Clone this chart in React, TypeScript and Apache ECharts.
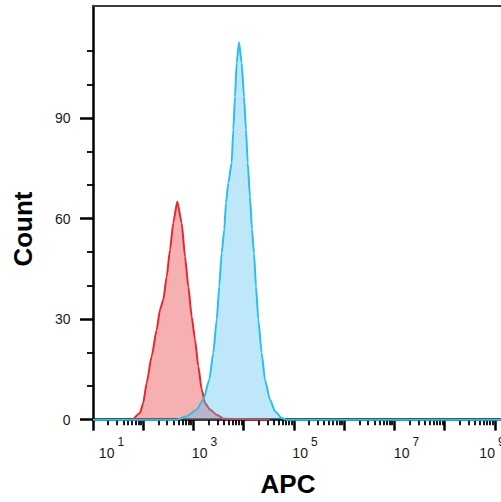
import React, { useEffect, useRef } from "react";
import * as echarts from "echarts";

// APC fluorescence (linear units) and event counts
const redAPC = [63, 86, 100, 117, 147, 185, 215, 251, 293, 341, 396, 476, 582, 678, 789, 920, 1072, 1247, 1455, 1694, 2128, 2897, 3917, 33000];
const redCount = [0, 2.0, 5.0, 11.0, 18.9, 26.8, 32.8, 35.8, 42.7, 50.7, 58.7, 65.1, 58.7, 48.7, 39.8, 30.8, 23.9, 15.9, 9.0, 5.0, 3.0, 1.5, 0.3, 0];

const blueAPC = [10, 463, 733, 1159, 1567, 2061, 2477, 2897, 3258, 3639, 4102, 4436, 4932, 5754, 6194, 6699, 7244, 8035, 9099, 10116, 11092, 11995, 13305, 14588, 15996, 17538, 19498, 22751, 26485, 33266, 41879, 56885, 71614, 1.32e9];
const blueCount = [0, 0, 1.0, 3.0, 6.0, 11.9, 19.9, 29.8, 39.8, 49.7, 56.7, 64.6, 70.6, 76.6, 86.5, 96.4, 106.4, 112.6, 106.4, 96.4, 86.5, 76.6, 66.6, 56.7, 49.7, 39.8, 29.8, 19.9, 11.9, 6.0, 2.5, 0.5, 0, 0];

// axes
const xMinDecade = 1;
const xMaxDecade = 9.12;
const xMajorDecades = [1, 2, 3, 4, 5, 6, 7, 8, 9];
const xLabelDecades = [1, 3, 5, 7, 9];
const yMin = -0.4;
const yMax = 123.4;
const yMajorTicks = [0, 30, 60, 90];
const yMinorTicks = [10, 20, 40, 50, 70, 80, 100, 110];

const xLabelShift: Record<number, number> = { 1: 18.5, 3: 11, 5: 11, 7: 12, 9: -3 };

const FONT = "'Liberation Sans', Arial, Helvetica, sans-serif";

function buildOption() {
  const xMinor: number[] = [];
  for (let d = 1; d < 10; d++) {
    for (let k = 2; k <= 9; k++) {
      const v = d + Math.log10(k);
      if (v <= xMaxDecade) xMinor.push(v);
    }
  }
  const rich: Record<string, any> = {};
  xLabelDecades.forEach((d) => {
    const s = xLabelShift[d];
    rich["b" + d] = {
      fontFamily: FONT,
      fontSize: 14,
      color: "#1a1a1a",
      verticalAlign: "bottom",
      lineHeight: 24,
      padding: [0, 0, 0, s > 0 ? 2 * s : 0],
    };
    rich["s" + d] = {
      fontFamily: FONT,
      fontSize: 12,
      color: "#1a1a1a",
      verticalAlign: "top",
      lineHeight: 24,
      padding: [0, s < 0 ? -2 * s : 0, 0, 3],
    };
  });

  const grid = { left: 93, right: 0, top: 6, bottom: 81, containLabel: false, outerBoundsMode: "none" };

  return {
    animation: false,
    backgroundColor: "#ffffff",
    grid,
    xAxis: [
      {
        type: "value",
        min: xMinDecade,
        max: xMaxDecade,
        position: "bottom",
        axisLine: { show: true, lineStyle: { color: "#000", width: 2.5 } },
        axisTick: { show: true, customValues: xMajorDecades, length: 11, lineStyle: { color: "#000", width: 2.5 } },
        axisLabel: {
          show: true,
          customValues: xLabelDecades,
          margin: 15,
          align: "center",
          hideOverlap: false,
          formatter: (v: number) => {
            const d = Math.round(v);
            return `{b${d}|10}{s${d}|${d}}`;
          },
          rich,
        },
        splitLine: { show: false },
      },
      {
        type: "value",
        min: xMinDecade,
        max: xMaxDecade,
        position: "bottom",
        axisLine: { show: false },
        axisTick: { show: true, customValues: xMinor, length: 5.5, lineStyle: { color: "#000", width: 1.8 } },
        axisLabel: { show: false },
        splitLine: { show: false },
      },
      {
        type: "value",
        min: xMinDecade,
        max: xMaxDecade,
        position: "top",
        axisLine: { show: true, lineStyle: { color: "#3a3a3a", width: 1.8 } },
        axisTick: { show: false },
        axisLabel: { show: false },
        splitLine: { show: false },
      },
    ],
    yAxis: [
      {
        type: "value",
        min: yMin,
        max: yMax,
        position: "left",
        axisLine: { show: true, lineStyle: { color: "#000", width: 2.5 } },
        axisTick: { show: true, customValues: yMajorTicks, length: 13, lineStyle: { color: "#000", width: 2.5 } },
        axisLabel: {
          show: true,
          customValues: yMajorTicks,
          margin: 22.5,
          fontFamily: FONT,
          fontSize: 14,
          color: "#1a1a1a",
        },
        splitLine: { show: false },
      },
      {
        type: "value",
        min: yMin,
        max: yMax,
        position: "left",
        axisLine: { show: false },
        axisTick: { show: true, customValues: yMinorTicks, length: 6, lineStyle: { color: "#000", width: 1.8 } },
        axisLabel: { show: false },
        splitLine: { show: false },
      },
    ],
    series: [
      {
        type: "line",
        name: "Control",
        xAxisIndex: 0,
        yAxisIndex: 0,
        data: redAPC.map((a, i) => [Math.log10(a), redCount[i]]),
        showSymbol: false,
        smooth: 0.2,
        smoothMonotone: "x",
        lineStyle: { color: "#e8262d", width: 2 },
        areaStyle: { color: "rgba(235,50,55,0.55)" },
        z: 2,
      },
      {
        type: "line",
        name: "Sample",
        xAxisIndex: 0,
        yAxisIndex: 0,
        data: blueAPC.map((a, i) => [Math.log10(a), blueCount[i]]),
        showSymbol: false,
        smooth: 0.2,
        smoothMonotone: "x",
        lineStyle: { color: "#2bbfe9", width: 2 },
        areaStyle: { color: "rgba(80,190,240,0.52)" },
        z: 3,
      },
    ],
    graphic: [
      {
        type: "text",
        x: 288,
        y: 484,
        style: {
          text: "APC",
          fontFamily: FONT,
          fontSize: 26,
          fontWeight: "bold",
          fill: "#000",
          align: "center",
          verticalAlign: "middle",
        },
      },
      {
        type: "text",
        x: 22.5,
        y: 229,
        rotation: Math.PI / 2,
        style: {
          text: "Count",
          fontFamily: FONT,
          fontSize: 26,
          fontWeight: "bold",
          fill: "#000",
          align: "center",
          verticalAlign: "middle",
        },
      },
    ],
  };
}

export default function App() {
  const ref = useRef<HTMLDivElement>(null);
  useEffect(() => {
    const chart = echarts.init(ref.current!, null, { renderer: "svg" });
    chart.setOption(buildOption() as any);
    return () => chart.dispose();
  }, []);
  return (
    <div
      ref={ref}
      style={{ position: "fixed", left: 0, top: 0, width: 501, height: 502, background: "#fff" }}
    />
  );
}
